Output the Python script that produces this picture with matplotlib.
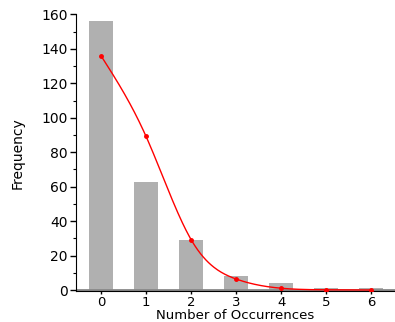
import numpy as np
import matplotlib
matplotlib.use("Agg")
from matplotlib import pyplot as plt
from matplotlib.ticker import MultipleLocator

# observed counts
occurrences = [0, 1, 2, 3, 4, 5, 6]
frequency = [156, 63, 29, 8, 4, 1, 1]
# fitted (expected) values
fitted = [136, 89.2, 29.3, 6.4, 1.05, 0.14, 0.015]


def natural_spline(x, y, n=300):
    # natural cubic spline through the fitted points, just for drawing the curve
    x = np.asarray(x, float)
    y = np.asarray(y, float)
    k = len(x)
    h = np.diff(x)
    A = np.zeros((k, k))
    b = np.zeros(k)
    A[0, 0] = 1
    A[-1, -1] = 1
    for i in range(1, k - 1):
        A[i, i - 1] = h[i - 1]
        A[i, i] = 2 * (h[i - 1] + h[i])
        A[i, i + 1] = h[i]
        b[i] = 6 * ((y[i + 1] - y[i]) / h[i] - (y[i] - y[i - 1]) / h[i - 1])
    M = np.linalg.solve(A, b)
    xs = np.linspace(x[0], x[-1], n)
    idx = np.clip(np.searchsorted(x, xs) - 1, 0, k - 2)
    x0, x1 = x[idx], x[idx + 1]
    hh = x1 - x0
    ys = (M[idx] * (x1 - xs) ** 3 / (6 * hh) + M[idx + 1] * (xs - x0) ** 3 / (6 * hh)
          + (y[idx] / hh - M[idx] * hh / 6) * (x1 - xs)
          + (y[idx + 1] / hh - M[idx + 1] * hh / 6) * (xs - x0))
    return xs, ys


plt.rcParams['font.family'] = ['DejaVu Sans']
fig = plt.figure(figsize=(3.95, 3.22), dpi=100)
ax = fig.add_axes([0.192, 0.095, 0.808, 0.86])

ax.bar(occurrences, frequency, width=0.52, color='#b0b0b0', zorder=1)
ax.axhline(0, color='#888888', lw=2, zorder=2)
xs, ys = natural_spline(occurrences, fitted)
ax.plot(xs, ys, color='red', lw=1, zorder=3)
ax.plot(occurrences, fitted, 'o', color='red', ms=2.5, zorder=4)

ax.set_xlim(-0.56, 6.53)
ax.set_ylim(-0.8, 160)
ax.set_xticks(occurrences)
ax.yaxis.set_major_locator(MultipleLocator(20))
ax.yaxis.set_minor_locator(MultipleLocator(10))
ax.tick_params(axis='y', which='major', length=4, width=1, labelsize=10, pad=2)
ax.tick_params(axis='y', which='minor', length=2, width=0.8)
ax.tick_params(axis='x', length=2, width=1, labelsize=9.5, pad=1)
for s in ['top', 'right']:
    ax.spines[s].set_visible(False)
ax.spines['left'].set_bounds(-0.8, 160)

ax.set_xlabel('Number of Occurrences', fontsize=9.5, labelpad=0)
ax.set_ylabel('Frequency', fontsize=10, labelpad=12)

fig.savefig('out.png', dpi=100)
